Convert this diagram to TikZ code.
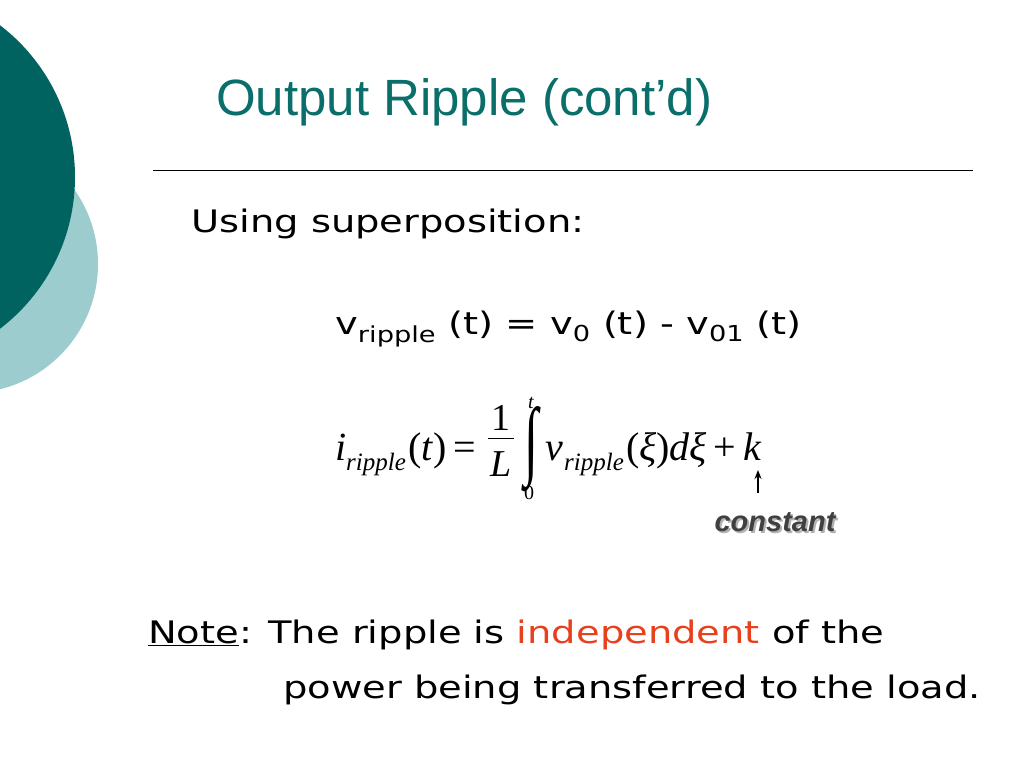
\documentclass[tikz,border=0pt]{standalone}
\usepackage{fontspec}
\usepackage{graphicx}
\usetikzlibrary{arrows.meta}
\setmainfont{Liberation Serif}
\newfontfamily\ar{Liberation Sans}
\newfontfamily\dv[FakeStretch=1.24]{DejaVu Sans}
\definecolor{dteal}{HTML}{00635F}
\definecolor{lteal}{HTML}{9CCCCE}
\definecolor{ttl}{HTML}{0A6E6A}
\definecolor{red2}{HTML}{E8401C}
\begin{document}
\begin{tikzpicture}[x=1pt,y=-1pt,
  body/.style={font=\dv\fontsize{31}{36}\selectfont,inner sep=0,anchor=base west},
  eq/.style={inner sep=0,anchor=base west}]
\useasboundingbox (0,0) rectangle (1024,768);
\fill[lteal] (-31,264) circle (129);
\fill[dteal] (-116,177) circle (191);
\node[inner sep=0,anchor=base west,text=ttl,font=\ar\fontsize{51}{55}\selectfont] (title) at (216,115) {Output Ripple (cont’d)};
\draw[line width=1pt] (153,170) -- (973,170);
\node[body] (using) at (191,232) {Using superposition:};
\node[body] (v) at (335,334) {v\textsubscript{\fontsize{22}{24}\selectfont ripple} (t) = v\textsubscript{\fontsize{22}{24}\selectfont 0} (t) - v\textsubscript{\fontsize{22}{24}\selectfont 01} (t)};
% equation 2
\node[eq,font=\fontsize{40}{44}\selectfont\itshape] (i) at (335,460) {i};
\node[eq,font=\fontsize{25}{28}\selectfont\itshape] (isub) at (346,470) {ripple};
\node[eq,font=\fontsize{40}{44}\selectfont] (ieq) at (408,460) {(\textit{t})\,=};
\node[inner sep=0,font=\fontsize{38}{40}\selectfont] (one) at (501,418) {1};
\draw[line width=1pt] (488,438) -- (514,438) coordinate (fr);
\node[inner sep=0,font=\fontsize{38}{40}\selectfont\itshape] (L) at (501,464) {L};
\node[inner sep=0] (int) at (531,449) {\resizebox{14pt}{62pt}{∫}};
\node[inner sep=0,font=\fontsize{20}{22}\selectfont\itshape] (t) at (531,403) {t};
\node[inner sep=0,font=\fontsize{20}{22}\selectfont] (zero) at (529,493) {0};
\node[eq,font=\fontsize{40}{44}\selectfont\itshape] (vv) at (545,460) {v};
\node[eq,font=\fontsize{25}{28}\selectfont\itshape] (vsub) at (564,470) {ripple};
\node[eq,font=\fontsize{40}{44}\selectfont] (rest) at (626,460) {(\textit{ξ})\textit{dξ}\,+\,\textit{k}};
\coordinate (arrowtop) at (758,470);
\node[inner sep=0,font=\ar\bfseries\itshape\fontsize{29}{32}\selectfont,text=gray!60] at (777,524) {constant};
\node[inner sep=0,font=\ar\bfseries\itshape\fontsize{29}{32}\selectfont,text=black!75] (const) at (775,522) {constant};
\coordinate (arrowbot) at (758,493);
\draw[-{Stealth[length=9pt,width=7pt]},line width=1.3pt] (arrowbot) -- (arrowtop);
% note
\node[body] (note) at (148,643) {\underline{Note}: The ripple is \textcolor{red2}{independent} of the};
\node[body] (note2) at (283,698) {power being transferred to the load.};
\end{tikzpicture}
\end{document}
